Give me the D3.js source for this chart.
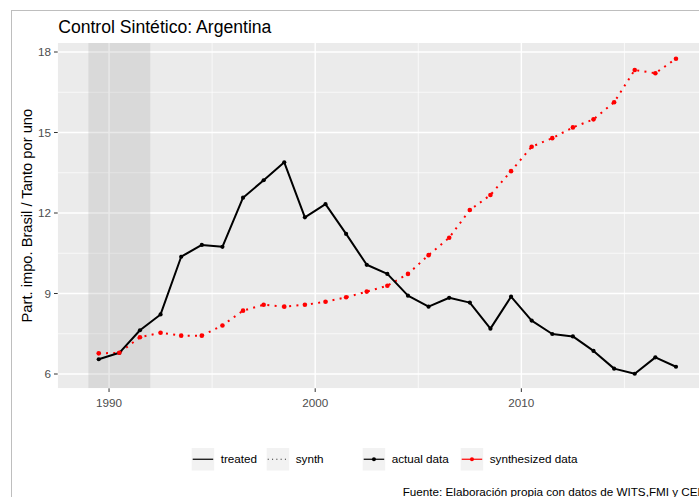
<!DOCTYPE html>
<html><head><meta charset="utf-8">
<script src="https://cdn.jsdelivr.net/npm/d3@7"></script>
<style>
html,body{margin:0;padding:0;background:#fff;}
svg{display:block;font-family:"Liberation Sans",Arial,sans-serif;}
</style></head>
<body>
<svg id="chart" width="699" height="497"></svg>
<script>
const years = [1989,1990,1991,1992,1993,1994,1995,1996,1997,1998,1999,2000,2001,2002,2003,2004,2005,2006,2007,2008,2009,2010,2011,2012,2013,2014,2015,2016,2017];
const actual = [6.55,6.79,7.63,8.22,10.37,10.81,10.74,12.57,13.22,13.89,11.84,12.33,11.22,10.07,9.73,8.92,8.51,8.84,8.66,7.69,8.88,7.99,7.49,7.40,6.86,6.20,6.01,6.62,6.27];
const synth = [6.77,6.79,7.37,7.54,7.43,7.43,7.81,8.36,8.58,8.51,8.58,8.69,8.86,9.07,9.29,9.73,10.43,11.08,12.11,12.67,13.56,14.47,14.79,15.19,15.49,16.13,17.33,17.21,17.75];
const treatedPeriod = [1989,1992];
const xMajor = [1990,2000,2010];
const xMinor = [1995,2005,2015];
const yMajor = [6,9,12,15,18];
const yMinor = [7.5,10.5,13.5,16.5];
const titleText = "Control Sintético: Argentina";
const yTitle = "Part. impo. Brasil / Tanto por uno";
const caption = "Fuente: Elaboración propia con datos de WITS,FMI y CEPAL";
const ltyLegend = ["treated","synth"];
const colLegend = ["actual data","synthesized data"];

const svg = d3.select("#chart");
const P = {l:57.7, t:43, r:706.9, b:388.3};
const x = d3.scaleLinear().domain([1987.51, 2019]).range([P.l, P.r]);
const y = d3.scaleLinear().domain([6,18]).range([374,52]);

// outer border
svg.append("rect").attr("x",11.5).attr("y",10.5).attr("width",720).attr("height",520)
  .attr("fill","none").attr("stroke","#BEBEBE").attr("stroke-width",1);

// panel
const clip = svg.append("defs").append("clipPath").attr("id","pc");
clip.append("rect").attr("x",P.l).attr("y",P.t).attr("width",P.r-P.l).attr("height",P.b-P.t);
const panel = svg.append("g").attr("clip-path","url(#pc)");
panel.append("rect").attr("x",P.l).attr("y",P.t).attr("width",P.r-P.l).attr("height",P.b-P.t).attr("fill","#EBEBEB");

panel.selectAll(".ymin").data(yMinor).join("line").attr("x1",P.l).attr("x2",P.r)
  .attr("y1",d=>y(d)).attr("y2",d=>y(d)).attr("stroke","#fff").attr("stroke-width",0.7);
panel.selectAll(".xmin").data(xMinor).join("line").attr("y1",P.t).attr("y2",P.b)
  .attr("x1",d=>x(d)).attr("x2",d=>x(d)).attr("stroke","#fff").attr("stroke-width",0.7);
panel.selectAll(".ymaj").data(yMajor).join("line").attr("x1",P.l).attr("x2",P.r)
  .attr("y1",d=>y(d)).attr("y2",d=>y(d)).attr("stroke","#fff").attr("stroke-width",1.4);
panel.selectAll(".xmaj").data(xMajor).join("line").attr("y1",P.t).attr("y2",P.b)
  .attr("x1",d=>x(d)).attr("x2",d=>x(d)).attr("stroke","#fff").attr("stroke-width",1.4);

// treated period shading
panel.append("rect").attr("x",x(treatedPeriod[0])).attr("y",P.t)
  .attr("width",x(treatedPeriod[1])-x(treatedPeriod[0])).attr("height",P.b-P.t)
  .attr("fill","#8F8F8F").attr("fill-opacity",0.2);

const pts = years.map((yr,i)=>({yr, a:actual[i], s:synth[i]}));
const xp = d=>x(d.yr+0.5);

panel.append("path").datum(pts)
  .attr("d", d3.line().x(xp).y(d=>y(d.s)))
  .attr("fill","none").attr("stroke","#FF0000").attr("stroke-width",2)
  .attr("stroke-dasharray","2,5.3");
panel.append("path").datum(pts)
  .attr("d", d3.line().x(xp).y(d=>y(d.a)))
  .attr("fill","none").attr("stroke","#000").attr("stroke-width",2).attr("stroke-linejoin","round");
panel.selectAll(".pa").data(pts).join("circle").attr("cx",xp).attr("cy",d=>y(d.a)).attr("r",2.1).attr("fill","#000");
panel.selectAll(".ps").data(pts).join("circle").attr("cx",xp).attr("cy",d=>y(d.s)).attr("r",2.3).attr("fill","#FF0000");

// axes
const axTxt = "#4D4D4D";
svg.selectAll(".yt").data(yMajor).join("line").attr("x1",P.l-3.7).attr("x2",P.l)
  .attr("y1",d=>y(d)).attr("y2",d=>y(d)).attr("stroke","#333").attr("stroke-width",1);
svg.selectAll(".yl").data(yMajor).join("text").attr("x",P.l-6.6).attr("y",d=>y(d)+4.1)
  .attr("text-anchor","end").attr("font-size",11.7).attr("fill",axTxt).text(d=>d);
svg.selectAll(".xt").data(xMajor).join("line").attr("y1",P.b).attr("y2",P.b+3.7)
  .attr("x1",d=>x(d)).attr("x2",d=>x(d)).attr("stroke","#333").attr("stroke-width",1);
svg.selectAll(".xl").data(xMajor).join("text").attr("x",d=>x(d)).attr("y",406.6)
  .attr("text-anchor","middle").attr("font-size",11.7).attr("fill",axTxt).text(d=>d);

// titles
svg.append("text").attr("x",58.2).attr("y",33.3).attr("font-size",17.6).attr("fill","#000").text(titleText);
svg.append("text").attr("transform",`translate(32,${(P.t+P.b)/2}) rotate(-90)`)
  .attr("text-anchor","middle").attr("font-size",14.7).attr("fill","#000").text(yTitle);

// legends
const keyY = 448, ks = 22.5;
const keys = [
  {x:191.7, label:ltyLegend[0], type:"solid"},
  {x:266.7, label:ltyLegend[1], type:"dotted"},
  {x:362.7, label:colLegend[0], type:"pt", col:"#000"},
  {x:460.7, label:colLegend[1], type:"pt", col:"#FF0000"}
];
const lg = svg.append("g");
keys.forEach(k=>{
  lg.append("rect").attr("x",k.x).attr("y",keyY).attr("width",ks).attr("height",ks).attr("fill","#F2F2F2");
  const cy = keyY+ks/2;
  const ln = lg.append("line").attr("x1",k.x+1).attr("x2",k.x+ks-1).attr("y1",cy).attr("y2",cy);
  if(k.type==="solid") ln.attr("stroke","#000").attr("stroke-width",1.2);
  else if(k.type==="dotted") ln.attr("stroke","#333").attr("stroke-width",1.1).attr("stroke-dasharray","1.1,3.2");
  else {
    ln.attr("stroke",k.col).attr("stroke-width",1.2);
    lg.append("circle").attr("cx",k.x+ks/2).attr("cy",cy).attr("r",2).attr("fill",k.col);
  }
  lg.append("text").attr("x",k.x+ks+6.5).attr("y",cy+4.1).attr("font-size",11.7).attr("fill","#000").text(k.label);
});

// caption
svg.append("text").attr("x",402.7).attr("y",495.5).attr("font-size",11.7).attr("fill","#000").text(caption);
</script>
</body></html>
